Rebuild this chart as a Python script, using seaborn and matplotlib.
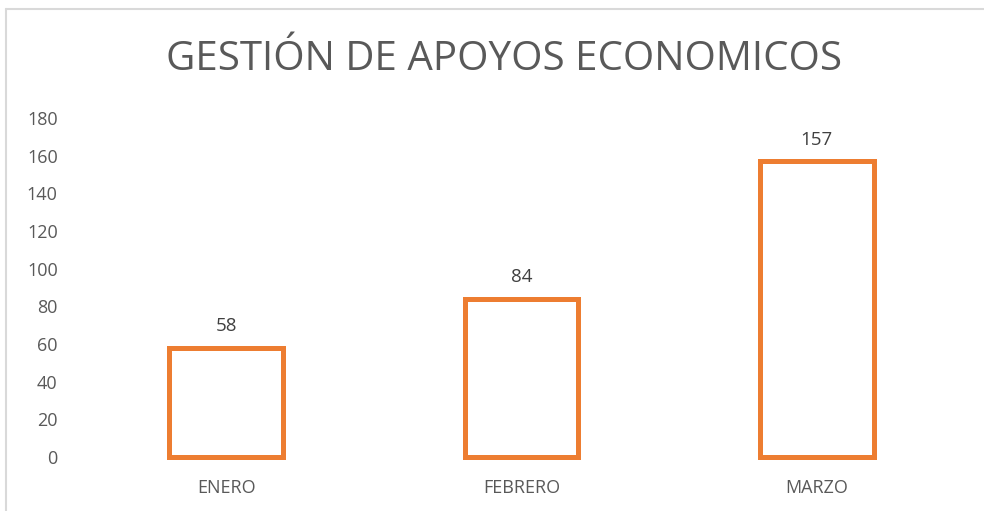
import matplotlib
matplotlib.use("Agg")
import matplotlib.pyplot as plt
import seaborn as sns
import pandas as pd
from matplotlib.lines import Line2D

# Data
months = ["ENERO", "FEBRERO", "MARZO"]
apoyos = [58, 84, 157]
y_ticks = [0, 20, 40, 60, 80, 100, 120, 140, 160, 180]

df = pd.DataFrame({"Mes": months, "Apoyos": apoyos})

sns.set_theme(style="white")
plt.rcParams['font.family'] = ['Open Sans', 'DejaVu Sans']

fig = plt.figure(figsize=(9.84, 5.11), dpi=100)
ax = fig.add_axes([78.5 / 984, 1 - 457 / 511, (964.5 - 78.5) / 984, (457 - 118) / 511])

sns.barplot(data=df, x="Mes", y="Apoyos", ax=ax, width=0.385,
            facecolor="white", edgecolor="#ED7D31", linewidth=3.6)
for p in ax.patches:
    p.set_clip_on(False)

ax.set_ylim(0, 180)
ax.set_xlim(-0.5, 2.5)
ax.set_yticks(y_ticks)
ax.tick_params(axis='y', labelsize=13, labelcolor="#595959", length=0, pad=15)
ax.tick_params(axis='x', labelsize=13, labelcolor="#595959", length=0, pad=16)
ax.set_xlabel("")
ax.set_ylabel("")
for s in ax.spines.values():
    s.set_visible(False)

# Data labels
for i, v in enumerate(apoyos):
    ax.annotate(str(v), (i, v), xytext=(0, 9), textcoords="offset points",
                ha="center", va="bottom", fontsize=13.5, color="#404040")

fig.text(504 / 984, 1 - 60 / 511, "GESTIÓN DE APOYOS ECONOMICOS", ha="center", va="center",
         fontsize=29, color="#595959")

# Chart area border (top and left visible)
fig.add_artist(Line2D([6 / 984, 1], [1 - 9.5 / 511, 1 - 9.5 / 511], color="#D9D9D9", lw=1.5,
                      transform=fig.transFigure))
fig.add_artist(Line2D([6 / 984, 6 / 984], [0, 1 - 9.5 / 511], color="#D9D9D9", lw=1.5,
                      transform=fig.transFigure))

fig.savefig("out.png", dpi=100)
